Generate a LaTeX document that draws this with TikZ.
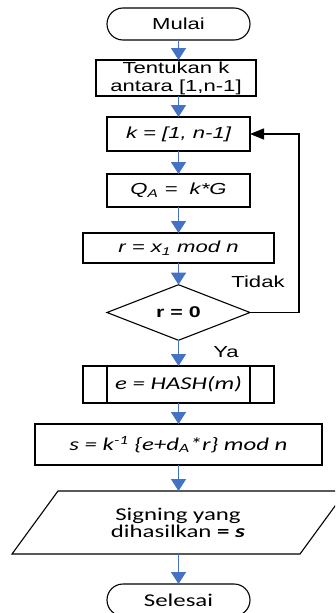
\documentclass[tikz,border=0pt]{standalone}
\usepackage{fontspec}
\usetikzlibrary{shapes.geometric,shapes.misc,arrows.meta}
\newfontfamily\arialw[FakeStretch=1.38]{Liberation Sans}
\newfontfamily\calw[FakeStretch=1.38]{Carlito}
\definecolor{flowblue}{HTML}{4472C4}

\begin{document}
\begin{tikzpicture}[x=1pt,y=-1pt,
  every node/.style={inner sep=0pt, outer sep=0pt, align=center},
  afont/.style={font=\arialw\fontsize{16}{18}\selectfont},
  cfont/.style={font=\calw\fontsize{18}{17}\selectfont},
  terminal/.style={draw, line width=1.1pt, rounded rectangle, minimum width=143pt, minimum height=32pt},
  procbox/.style={draw, line width=1.1pt, rectangle, minimum width=#1},
  decision/.style={draw, line width=1.1pt, diamond, minimum width=143pt, minimum height=54pt},
  flow/.style={draw=flowblue, line width=1.3pt, -{Triangle[width=15pt,length=12pt,fill=flowblue]}},
  loopback/.style={draw=black, line width=1.3pt, -{Triangle[width=11pt,length=14pt,fill=black]}}
]
\useasboundingbox (0,0) rectangle (335,613);
\clip (0,0) rectangle (335,613);

% start
\node[terminal, afont] (start) at (178.5,24) {Mulai};

% choose k
\node[procbox=160pt, minimum height=36pt, afont] (pick) at (176,78) {Tentukan k\\antara [1,n-1]};
\node[procbox=143pt, minimum height=34pt, afont] (kset) at (178.5,134) {\itshape k = [1, n-1]};
\node[procbox=143pt, minimum height=33pt, afont] (qa) at (178.5,190.5) {\itshape Q\textsubscript{A} =\ \ k*G};
\node[procbox=191pt, minimum height=30pt, afont] (rval) at (178.5,248) {\itshape r = x\textsubscript{1} mod n};

% test on r
\node[decision, font=\arialw\bfseries\fontsize{15.5}{18}\selectfont] (test) at (178.5,312.5) {r = 0};
\node[afont] (no) at (258,282) {Tidak};
\node[afont] (yes) at (226,352) {Ya};

% hash of the message (predefined process)
\node[procbox=191pt, minimum height=37pt, cfont] (hash) at (178.5,384.5) {\itshape e = HASH(m)};
\draw[line width=1.1pt] ([xshift=24pt]hash.north west) -- ([xshift=24pt]hash.south west);
\draw[line width=1.1pt] ([xshift=-24pt]hash.north east) -- ([xshift=-24pt]hash.south east);

% signature value
\node[procbox=287pt, minimum height=41pt, cfont] (sig) at (178.5,444.5)
  {\itshape s = k\textsuperscript{-1} \{e+d\textsubscript{A}*r\} mod n};

% output
\node[minimum width=200pt, minimum height=63pt, cfont] (out) at (178,522.5)
  {Signing yang\\dihasilkan \textbf{= \textit{s}}};
\draw[line width=1.1pt] (12,554) -- (300,554) -- (346,491) -- (58,491) -- cycle;

% end
\node[terminal, cfont] (stop) at (178.5,600) {Selesai};

% connectors
\draw[flow] (start.south) -- (pick.north -| start.south);
\draw[flow] (pick.south -| kset.north) -- (kset.north);
\draw[flow] (kset.south) -- (qa.north);
\draw[flow] (qa.south) -- (rval.north);
\draw[flow] (rval.south) -- (test.north);
\draw[flow] (test.south) -- (hash.north);
\draw[flow] (hash.south) -- (sig.north);
\draw[flow] (sig.south) -- (sig.south |- out.north);
\draw[flow] (sig.south |- out.south) -- (stop.north);

\coordinate (turn) at (299,134);
\draw[loopback] (test.east) -| (turn) -- (kset.east);
\end{tikzpicture}
\end{document}
